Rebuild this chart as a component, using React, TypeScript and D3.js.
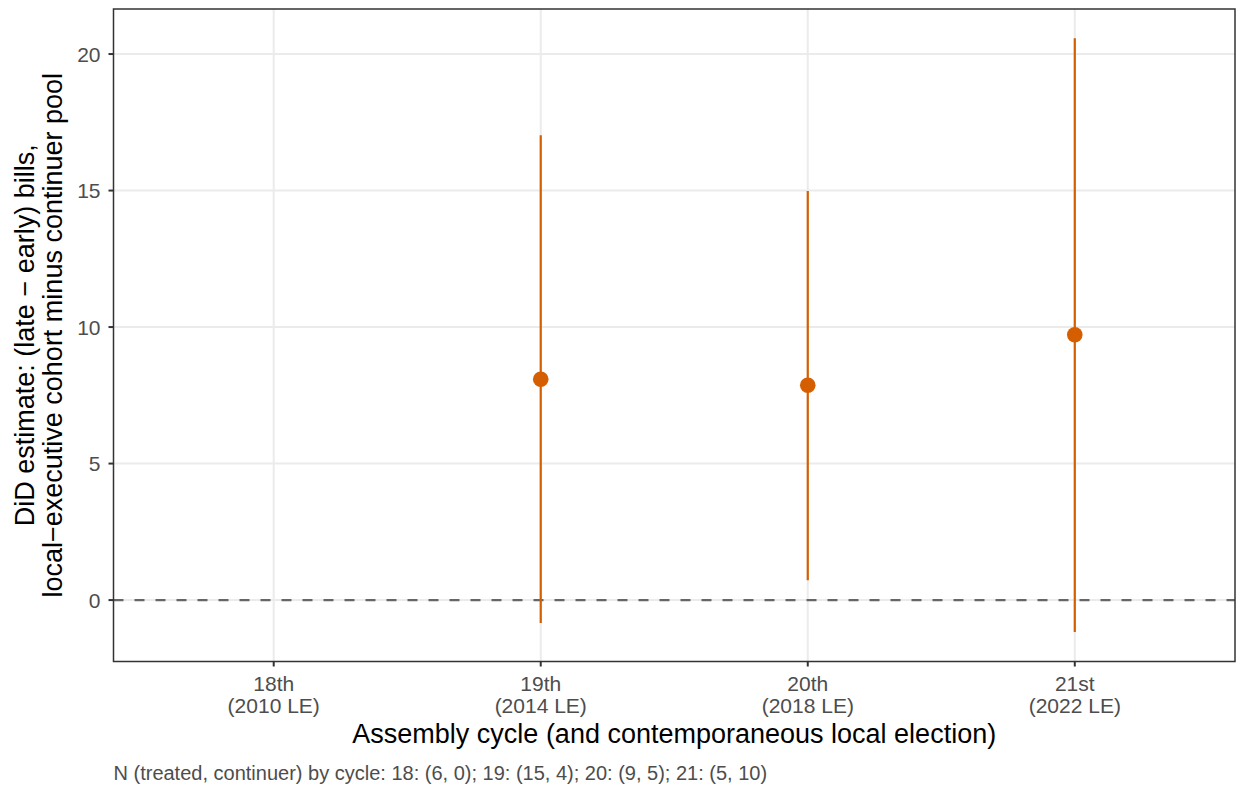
import React from 'react';
import * as d3 from 'd3';

const cycles = ['18th', '19th', '20th', '21st'];
const elections = ['(2010 LE)', '(2014 LE)', '(2018 LE)', '(2022 LE)'];
const estCycles = ['19th', '20th', '21st'];
const estimates = [8.09, 7.87, 9.72];
const lower = [-0.84, 0.73, -1.17];
const upper = [17.03, 14.98, 20.58];
const yTicks = [0, 5, 10, 15, 20];

const W = 1238, H = 788;
const margin = { top: 9, right: 3, bottom: 126.5, left: 113.5 };
const font = 'Liberation Sans, Arial, sans-serif';

export default function App() {
  const width = W - margin.left - margin.right;
  const height = H - margin.top - margin.bottom;

  // discrete axis with 0.6 expansion on each side
  const x = d3.scaleLinear().domain([-0.6, cycles.length - 1 + 0.6]).range([0, width]);
  const xPos = (c: string) => x(cycles.indexOf(c));
  const y = d3.scaleLinear().domain([-2.25, 21.65]).range([height, 0]);

  return (
    <svg width={W} height={H} style={{ position: 'absolute', left: 0, top: 0 }} fontFamily={font}>
      <rect width={W} height={H} fill="#fff" />
      <g transform={`translate(${margin.left},${margin.top})`}>
        {yTicks.map(t => (
          <line key={'gy' + t} x1={0} x2={width} y1={y(t)} y2={y(t)} stroke="#EBEBEB" strokeWidth={2} />
        ))}
        {cycles.map((c, i) => (
          <line key={'gx' + c} x1={x(i)} x2={x(i)} y1={0} y2={height} stroke="#EBEBEB" strokeWidth={2} />
        ))}
        <line x1={0} x2={width} y1={y(0)} y2={y(0)} stroke="#666666" strokeWidth={2.2} strokeDasharray="10 11" />
        {estCycles.map((c, i) => (
          <g key={'e' + c}>
            <line x1={xPos(c)} x2={xPos(c)} y1={y(lower[i])} y2={y(upper[i])} stroke="#D55E00" strokeWidth={2.2} />
            <circle cx={xPos(c)} cy={y(estimates[i])} r={7.8} fill="#D55E00" />
          </g>
        ))}
        <rect x={0} y={0} width={width} height={height} fill="none" stroke="#333333" strokeWidth={1.5} />
        {/* y axis */}
        {yTicks.map(t => (
          <g key={'yt' + t} transform={`translate(0,${y(t)})`}>
            <line x1={-5} x2={0} stroke="#333333" strokeWidth={2} />
            <text x={-13} dy="0.36em" textAnchor="end" fontSize={21} fill="#4D4D4D">{t}</text>
          </g>
        ))}
        {/* x axis */}
        {cycles.map((c, i) => (
          <g key={'xt' + c} transform={`translate(${x(i)},${height})`}>
            <line y1={0} y2={5} stroke="#333333" strokeWidth={2} />
            <text y={29.5} textAnchor="middle" fontSize={21} fill="#4D4D4D">{c}</text>
            <text y={51.5} textAnchor="middle" fontSize={21} fill="#4D4D4D">{elections[i]}</text>
          </g>
        ))}
        <text x={width / 2} y={743 - margin.top} textAnchor="middle" fontSize={27} fill="#000">
          Assembly cycle (and contemporaneous local election)
        </text>
        <g transform={`translate(${33.5 - margin.left},${height / 2}) rotate(-90)`}>
          <text textAnchor="middle" fontSize={27} fill="#000">DiD estimate: (late − early) bills,</text>
          <text y={28.5} textAnchor="middle" fontSize={27} fill="#000">local−executive cohort minus continuer pool</text>
        </g>
      </g>
      <text x={margin.left} y={780} fontSize={20} fill="#4D4D4D">
        N (treated, continuer) by cycle: 18: (6, 0); 19: (15, 4); 20: (9, 5); 21: (5, 10)
      </text>
    </svg>
  );
}
